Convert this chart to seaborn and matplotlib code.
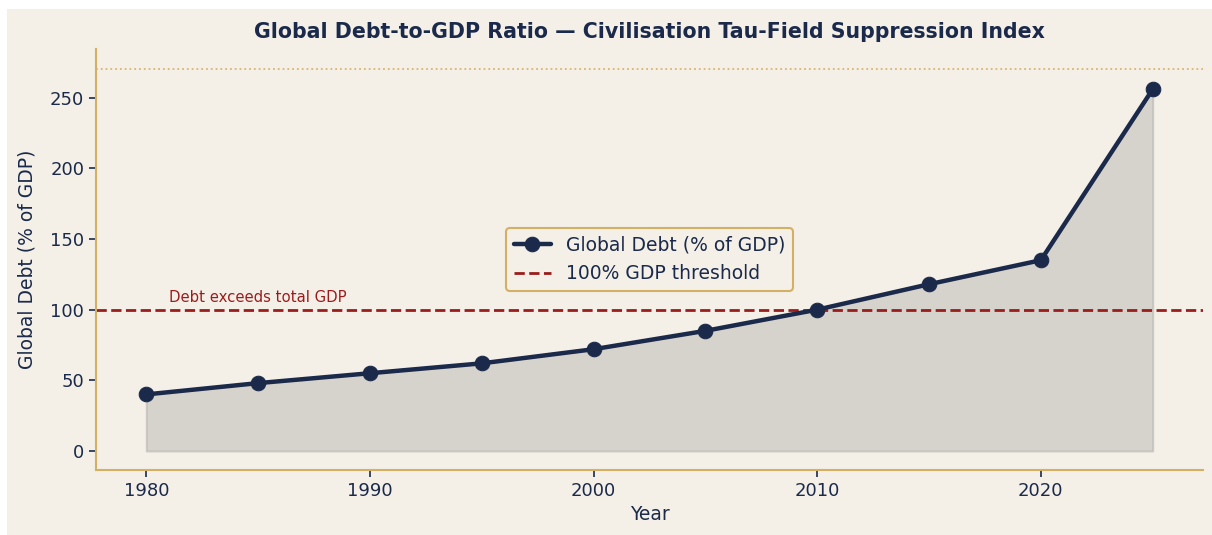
import matplotlib
matplotlib.use("Agg")
import matplotlib.pyplot as plt
from matplotlib.patches import Rectangle
import seaborn as sns
import pandas as pd

years = [1980, 1985, 1990, 1995, 2000, 2005, 2010, 2015, 2020, 2025]
debt_pct = [40, 48, 55, 62, 72, 85, 100, 118, 135, 256]
threshold = 100
ceiling = 270
yticks = [0, 50, 100, 150, 200, 250]
xticks = [1980, 1990, 2000, 2010, 2020]

NAVY = "#1b2a4a"
RED = "#9b1c1c"
GOLD = "#d4b064"
BG = "#f4f0e8"

sns.set_theme(style="white")
plt.rcParams["font.family"] = ["DejaVu Sans"]

df = pd.DataFrame({"Year": years, "Debt": debt_pct})

fig = plt.figure(figsize=(12.12, 5.35), dpi=100, facecolor="white")
fig.patches.append(Rectangle((7 / 1212, 0), 1 - 7 / 1212, 1 - 9 / 535,
                             transform=fig.transFigure, facecolor=BG,
                             edgecolor="none", zorder=-10))
ax = fig.add_axes([96 / 1212, (535 - 470) / 535, (1203 - 96) / 1212, (470 - 49) / 535])
ax.set_facecolor(BG)

ax.fill_between(df["Year"], 0, df["Debt"], color="#c2c0bb", alpha=0.6,
                edgecolor="#b8b6b1", linewidth=1.5, zorder=1)
sns.lineplot(data=df, x="Year", y="Debt", ax=ax, color=NAVY, linewidth=3.2,
             marker="o", markersize=10.5, markeredgecolor=NAVY,
             label="Global Debt (% of GDP)", zorder=3)
ax.axhline(threshold, color=RED, linestyle="--", linewidth=2,
           label="100% GDP threshold", zorder=2)
ax.axhline(ceiling, color=GOLD, linestyle=":", linewidth=1.3, alpha=0.9, zorder=2)
ax.text(1981, threshold + 3, "Debt exceeds total GDP", color=RED, fontsize=10.75,
        va="bottom", ha="left")

ax.set_xlim(1977.75, 2027.25)
ax.set_ylim(-13.5, 284.5)
ax.set_xticks(xticks)
ax.set_yticks(yticks)
ax.tick_params(axis="both", colors=NAVY, labelsize=13, length=5, width=1.2,
               left=True, bottom=True, labelcolor=NAVY)
for s in ["top", "right"]:
    ax.spines[s].set_visible(False)
for s in ["left", "bottom"]:
    ax.spines[s].set_color(GOLD)
    ax.spines[s].set_linewidth(1.5)

ax.set_xlabel("Year", color=NAVY, fontsize=13.5)
ax.set_ylabel("Global Debt (% of GDP)", color=NAVY, fontsize=13.5, labelpad=10)
ax.set_title("Global Debt-to-GDP Ratio — Civilisation Tau-Field Suppression Index",
             color=NAVY, fontsize=14.8, fontweight="bold", pad=8)

leg = ax.legend(loc="center", frameon=True, fontsize=13.5, facecolor=BG,
                edgecolor=GOLD, framealpha=1.0)
for t in leg.get_texts():
    t.set_color(NAVY)
leg.get_frame().set_linewidth(1.5)

fig.savefig("out.png", dpi=100, facecolor=fig.get_facecolor())
